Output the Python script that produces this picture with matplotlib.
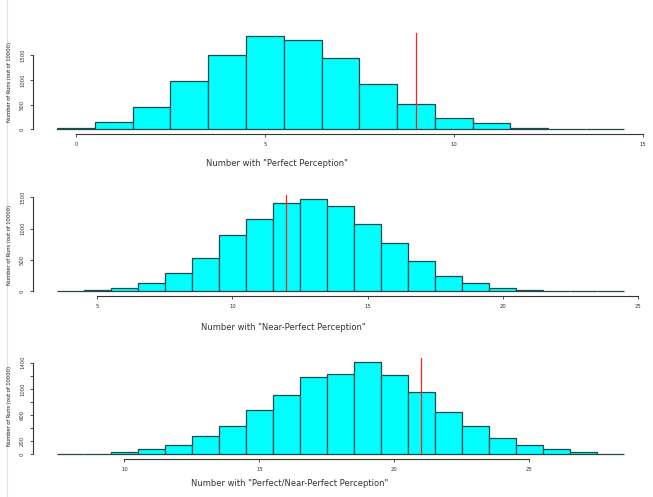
import matplotlib.pyplot as plt
import numpy as np
from matplotlib.lines import Line2D

# 三组模拟结果（每组 10000 次）
perfect_bins = np.arange(0, 15)
perfect_counts = [25, 143, 455, 971, 1510, 1877, 1796, 1435, 924, 510, 230, 128, 30, 3, 1]
perfect_obs = 9
perfect_top = 1945
perfect_yticks = [0, 500, 1000, 1500]
perfect_xticks = [0, 5, 10, 15]

near_bins = np.arange(4, 25)
near_counts = [1, 26, 53, 128, 292, 536, 893, 1153, 1404, 1468, 1365, 1074, 766, 479,
               239, 128, 53, 26, 5, 1, 0]
near_obs = 12
near_top = 1537
near_yticks = [0, 500, 1000, 1500]
near_xticks = [5, 10, 15, 20, 25]

both_bins = np.arange(8, 29)
both_counts = [1, 5, 36, 76, 138, 275, 428, 678, 907, 1177, 1228, 1411, 1207, 953,
               647, 428, 255, 138, 76, 41, 5]
both_obs = 21
both_top = 1467
both_yticks = [0, 200, 400, 600, 800, 1000, 1200, 1400]
both_ylabels = ['0', '200', '', '600', '', '1000', '', '1400']
both_xticks = [10, 15, 20, 25]

xlabels = ['Number with "Perfect Perception"',
           'Number with "Near-Perfect Perception"',
           'Number with "Perfect/Near-Perfect Perception"']
ylabel = 'Number of Runs (out of 10000)'

W, H = 653, 497
fig = plt.figure(figsize=(W / 100, H / 100), dpi=100)
fig.add_artist(Line2D([7 / W, 7 / W], [0, 1], color='#e2e2e2', lw=0.8))


def panel(L, R, T, B, x0px, xscale, yscale):
    # 用像素位置放置子图，B 为 y=0 的像素行
    ax = fig.add_axes([L / W, 1 - B / H, (R - L) / W, (B - T) / H])
    ax.set_xlim((L - x0px) / xscale, (R - x0px) / xscale)
    ax.set_ylim(0, (B - T) / yscale)
    ax.patch.set_alpha(0)
    for s in ['top', 'right']:
        ax.spines[s].set_visible(False)
    ax.spines['left'].set_position(('outward', (L - 33) * 0.72))
    ax.spines['bottom'].set_position(('outward', 3.2))
    for s in ['left', 'bottom']:
        ax.spines[s].set_color('#333333')
        ax.spines[s].set_linewidth(0.8)
    ax.tick_params(length=2.3, width=0.6, color='#333333', labelsize=3.8,
                   labelcolor='#333333', pad=3.5)
    return ax


def draw(ax, bins, counts, obs, top, xticks, yticks, ylabs=None):
    ax.bar(bins, counts, width=1, color='#00ffff', edgecolor='#1f4a4a', linewidth=0.9,
           clip_on=False)
    ax.plot([obs, obs], [0, top], color='#ff2020', lw=0.9)
    ax.set_xticks(xticks)
    ax.set_yticks(yticks)
    if ylabs is not None:
        ax.set_yticklabels(ylabs)
    ax.spines['bottom'].set_bounds(xticks[0], xticks[-1])
    ax.spines['left'].set_bounds(yticks[0], yticks[-1])
    for lab in ax.get_yticklabels():
        lab.set_rotation(90)
        lab.set_va('center')


ax1 = panel(40, 650, 22, 129.3, 76, 37.78, 0.04953)
draw(ax1, perfect_bins, perfect_counts, perfect_obs, perfect_top, perfect_xticks, perfect_yticks)

ax2 = panel(40, 650, 185, 291.3, 97.3 - 5 * 27.02, 27.02, 0.06267)
draw(ax2, near_bins, near_counts, near_obs, near_top, near_xticks, near_yticks)

ax3 = panel(40, 650, 350, 454.3, 124.3 - 10 * 27.0, 27.0, 0.06543)
draw(ax3, both_bins, both_counts, both_obs, both_top, both_xticks, both_yticks, both_ylabels)

# 横轴标题与纵轴标题
for (cx, cy), txt in zip([(276.5, 163), (283, 328), (289.5, 484)], xlabels):
    fig.text(cx / W, 1 - cy / H, txt, ha='center', va='center', fontsize=6.0, color='#333333')
for cy in [82, 245, 406]:
    fig.text(10 / W, 1 - cy / H, ylabel, ha='center', va='center', rotation=90,
             fontsize=3.7, color='#222222')

plt.savefig('out.png', dpi=100)
